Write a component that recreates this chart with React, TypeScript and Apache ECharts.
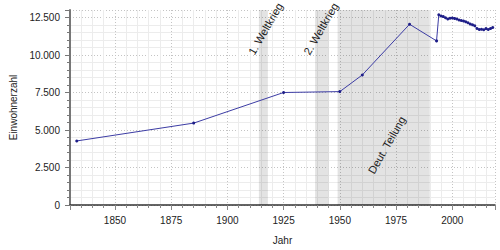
import React, { useEffect, useRef } from "react";
import * as echarts from "echarts";

const years = [1833, 1885, 1925, 1950, 1960, 1981, 1993,
  1994, 1995, 1996, 1997, 1998, 1999, 2000, 2001, 2002, 2003, 2004, 2005, 2006,
  2007, 2008, 2009, 2010, 2011, 2012, 2013, 2014, 2015, 2016, 2017, 2018];
const population = [4270, 5460, 7500, 7560, 8670, 12050, 10940,
  12680, 12600, 12560, 12480, 12400, 12450, 12470, 12440, 12400, 12330, 12300, 12270, 12210,
  12150, 12060, 12010, 11950, 11770, 11700, 11710, 11680, 11760, 11700, 11760, 11830];

const bandStarts = [1914, 1939, 1949];
const bandEnds = [1918, 1945, 1990];
const bandLabels = ["1. Weltkrieg", "2. Weltkrieg", "Deut. Teilung"];

const xTitle = "Jahr";
const yTitle = "Einwohnerzahl";

const fmt = (v: number) => String(v).replace(/\B(?=(\d{3})+(?!\d))/g, ".");

export default function App() {
  const ref = useRef<HTMLDivElement>(null);
  useEffect(() => {
    if (!ref.current) return;
    const chart = echarts.init(ref.current, undefined, { renderer: "svg" });
    const font = "Liberation Sans, Arial, sans-serif";
    chart.setOption({
      animation: false,
      backgroundColor: "#ffffff",
      textStyle: { fontFamily: font },
      grid: { left: 68, right: 5, top: 10, bottom: 44, containLabel: false },
      xAxis: {
        type: "value",
        min: 1830,
        max: 2019,
        minInterval: 25,
        maxInterval: 25,
        name: xTitle,
        nameLocation: "middle",
        nameGap: 30,
        nameTextStyle: { fontSize: 10, color: "#222", fontFamily: font },
        axisLine: { show: true, onZero: false, lineStyle: { color: "#333", width: 1.5 } },
        axisTick: { show: true, length: 5, lineStyle: { color: "#888" } },
        minorTick: { show: true, splitNumber: 5, length: 3, lineStyle: { color: "#888" } },
        axisLabel: {
          fontSize: 10, color: "#222", margin: 10, fontFamily: font,
          showMinLabel: false, showMaxLabel: false,
          formatter: (v: number) => String(v),
        },
        splitLine: { show: true, lineStyle: { color: "#c4c4c4", type: [1, 2], width: 1 } },
        minorSplitLine: { show: true, lineStyle: { color: "#ececec", width: 1, type: "solid" } },
      },
      yAxis: {
        type: "value",
        min: 0,
        max: 13000,
        interval: 2500,
        name: yTitle,
        nameLocation: "middle",
        nameGap: 52,
        nameTextStyle: { fontSize: 10, color: "#222", fontFamily: font },
        axisLine: { show: true, lineStyle: { color: "#777", width: 2 } },
        axisTick: { show: true, length: 5, lineStyle: { color: "#777" } },
        minorTick: { show: true, splitNumber: 5, length: 3, lineStyle: { color: "#777" } },
        axisLabel: {
          fontSize: 10, color: "#222", margin: 10, fontFamily: font,
          showMaxLabel: false,
          formatter: (v: number) => fmt(v),
        },
        splitLine: { show: true, lineStyle: { color: "#c4c4c4", type: [1, 2], width: 1 } },
        minorSplitLine: { show: true, lineStyle: { color: "#ececec", width: 1, type: "solid" } },
      },
      series: [
        {
          type: "line",
          data: years.map((y, i) => [y, population[i]]),
          symbol: "circle",
          symbolSize: 3,
          showSymbol: true,
          lineStyle: { color: "#3c3ca4", width: 1 },
          itemStyle: { color: "#1e1e88" },
          z: 3,
          markArea: {
            silent: true,
            itemStyle: { color: "rgba(0,0,0,0.11)" },
            data: bandStarts.map((s, i) => [{ xAxis: s }, { xAxis: bandEnds[i] }]),
          },
        },
      ],
    });

    const yVals = [11750, 11750, 4000];
    const dx = [2, -1, 3];
    const graphics = bandLabels.map((label, i) => {
      const p = chart.convertToPixel({ gridIndex: 0 }, [
        (bandStarts[i] + bandEnds[i]) / 2,
        yVals[i],
      ]) as number[];
      return {
        type: "text",
        x: p[0] + dx[i],
        y: p[1],
        rotation: (60 * Math.PI) / 180,
        z: 10,
        style: {
          text: label,
          fill: "#222",
          font: `11px ${font}`,
          textAlign: "center",
          textVerticalAlign: "middle",
        },
      };
    });
    chart.setOption({ graphic: graphics });

    return () => chart.dispose();
  }, []);
  return (
    <div
      ref={ref}
      style={{ position: "fixed", left: 0, top: 0, width: 500, height: 250 }}
    />
  );
}
